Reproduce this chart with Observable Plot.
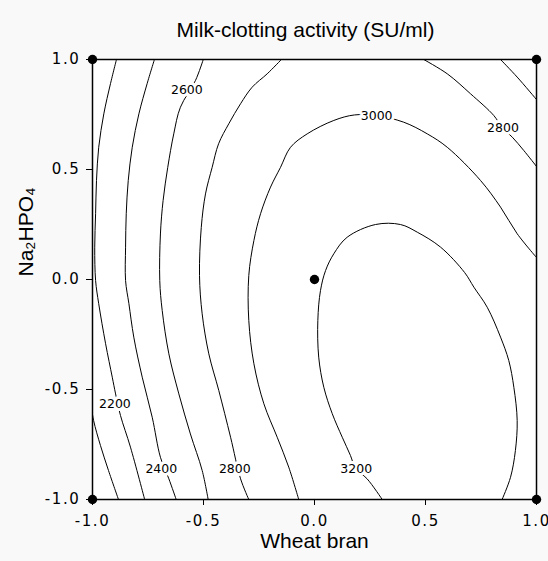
<!DOCTYPE html>
<html>
<head>
<meta charset="utf-8">
<script src="https://cdn.jsdelivr.net/npm/d3@7"></script>
<script src="https://cdn.jsdelivr.net/npm/@observablehq/plot@0.6"></script>
<style>
  html, body { margin: 0; padding: 0; background: #f9f9f9; }
  #chart svg { display: block; }
</style>
</head>
<body>
<div id="chart"></div>
<script>
// ---- Data ----
const xTicks = [-1, -0.5, 0, 0.5, 1];
const yTicks = [-1, -0.5, 0, 0.5, 1];

const c2000x = [-1.008, -0.995, -0.964, -0.928, -0.883];
const c2000y = [-0.56, -0.641, -0.755, -0.868, -1.0];

const c2200x = [-0.892, -0.919, -0.949, -0.972, -0.982, -0.986, -0.990, -0.986, -0.972, -0.941, -0.911, -0.896, -0.874, -0.829, -0.765];
const c2200y = [1.0, 0.890, 0.753, 0.601, 0.45, 0.299, 0.147, -0.005, -0.110, -0.292, -0.444, -0.520, -0.618, -0.762, -1.0];

const c2400x = [-0.721, -0.754, -0.791, -0.821, -0.839, -0.848, -0.851, -0.851, -0.836, -0.814, -0.776, -0.731, -0.694, -0.656, -0.623];
const c2400y = [1.0, 0.890, 0.753, 0.601, 0.45, 0.299, 0.147, -0.005, -0.110, -0.262, -0.444, -0.626, -0.808, -0.906, -1.0];

const c2600x = [-0.501, -0.536, -0.604, -0.634, -0.661, -0.682, -0.694, -0.697, -0.686, -0.656, -0.611, -0.559, -0.506, -0.479];
const c2600y = [1.0, 0.905, 0.783, 0.662, 0.51, 0.359, 0.207, -0.005, -0.141, -0.338, -0.52, -0.702, -0.868, -1.0];

const c2600bx = [0.838, 0.913, 1.0];
const c2600by = [1.0, 0.92, 0.818];

const c2800x = [-0.149, -0.213, -0.281, -0.333, -0.386, -0.432, -0.461, -0.491, -0.510, -0.518, -0.506, -0.476, -0.431, -0.378, -0.333, -0.296];
const c2800y = [1.0, 0.935, 0.874, 0.799, 0.708, 0.617, 0.51, 0.389, 0.237, 0.018, -0.156, -0.338, -0.505, -0.717, -0.906, -1.0];

const c2800bx = [0.492, 0.598, 0.703, 0.808, 0.845, 0.891, 0.943, 1.0];
const c2800by = [1.0, 0.935, 0.844, 0.745, 0.691, 0.647, 0.586, 0.514];

const c3000x = [-0.071, -0.116, -0.168, -0.228, -0.273, -0.296, -0.296, -0.273, -0.243, -0.198, -0.153, -0.108, -0.033, 0.087, 0.18, 0.28, 0.402, 0.508, 0.598, 0.748, 0.838, 0.913, 1.0];
const c3000y = [-1.0, -0.853, -0.717, -0.565, -0.383, -0.186, 0.018, 0.177, 0.299, 0.42, 0.51, 0.601, 0.662, 0.723, 0.748, 0.745, 0.715, 0.662, 0.601, 0.45, 0.329, 0.208, 0.1];

const c3200x = [0.305, 0.237, 0.185, 0.162, 0.125, 0.080, 0.042, 0.019, 0.015, 0.027, 0.05, 0.087, 0.147, 0.275, 0.387, 0.463, 0.568, 0.676, 0.718, 0.778, 0.838, 0.875, 0.898, 0.913, 0.905, 0.883, 0.845];
const c3200y = [-1.0, -0.906, -0.859, -0.8, -0.717, -0.610, -0.490, -0.353, -0.186, -0.05, 0.041, 0.117, 0.192, 0.25, 0.25, 0.215, 0.147, 0.032, -0.035, -0.126, -0.262, -0.368, -0.490, -0.641, -0.777, -0.899, -1.0];

// contour labels
const labelText = ["2600", "3000", "2800", "2200", "2400", "2800", "3200"];
const labelX = [-0.575, 0.280, 0.849, -0.899, -0.690, -0.359, 0.188];
const labelY = [0.863, 0.742, 0.689, -0.568, -0.861, -0.861, -0.861];

// design points
const designX = [-1, 1, -1, 1, 0];
const designY = [1, 1, -1, -1, 0];

const titleText = "Milk-clotting activity (SU/ml)";
const xLabel = "Wheat bran";
const yLabel = "Na₂HPO₄";

// ---- Build tables ----
const contourSets = [
  ["2000", c2000x, c2000y],
  ["2200", c2200x, c2200y],
  ["2400", c2400x, c2400y],
  ["2600a", c2600x, c2600y],
  ["2600b", c2600bx, c2600by],
  ["2800a", c2800x, c2800y],
  ["2800b", c2800bx, c2800by],
  ["3000", c3000x, c3000y],
  ["3200", c3200x, c3200y]
];
const contours = contourSets.flatMap(([id, xs, ys]) => xs.map((x, i) => ({id, x, y: ys[i]})));
const labels = labelText.map((t, i) => ({t, x: labelX[i], y: labelY[i]}));
const design = designX.map((x, i) => ({x, y: designY[i]}));
const fmt = d => d.toFixed(1);

const plot = Plot.plot({
  width: 548,
  height: 561,
  marginLeft: 92,
  marginRight: 12,
  marginTop: 59,
  marginBottom: 62,
  style: {background: "transparent", color: "#000", fontFamily: "DejaVu Sans, Verdana, sans-serif", fontSize: "15px", overflow: "visible"},
  x: {domain: [-1, 1], ticks: xTicks, tickFormat: fmt, tickSize: 6, tickPadding: 10, label: null},
  y: {domain: [-1, 1], ticks: yTicks, tickFormat: fmt, tickSize: 6, tickPadding: 6, label: null},
  marks: [
    Plot.frame({fill: "white", stroke: "none"}),
    Plot.line(contours, {x: "x", y: "y", z: "id", curve: "catmull-rom", stroke: "black", strokeWidth: 1, clip: true}),
    Plot.text(labels, {x: "x", y: "y", text: "t", fontSize: 12.5, fontFamily: "DejaVu Sans, Verdana, sans-serif", fill: "black", stroke: "white", strokeWidth: 6}),
    Plot.frame({stroke: "black", strokeWidth: 1.5}),
    Plot.dot(design, {x: "x", y: "y", r: 4.7, fill: "black", stroke: "none"}),
    Plot.text([titleText], {text: d => d, frameAnchor: "top", dy: -37, dx: -9, fontSize: 21, fontFamily: "Liberation Sans, Arial, sans-serif", fill: "black"}),
    Plot.text([xLabel], {text: d => d, frameAnchor: "bottom", dy: 48, fontSize: 21, fontFamily: "Liberation Sans, Arial, sans-serif", fill: "black"}),
    Plot.text([yLabel], {text: d => d, frameAnchor: "left", dx: -66, dy: -3, rotate: -90, fontSize: 21, fontFamily: "Liberation Sans, Arial, sans-serif", fill: "black"})
  ]
});
document.getElementById("chart").appendChild(plot);
// widen tick label spacing like the reference's bitmap font
d3.select(plot).selectAll('g[aria-label*="axis"] text')
  .style("letter-spacing", "1.6px")
  .style("font-size", "15px")
  .style("font-family", "DejaVu Sans, Verdana, sans-serif");
</script>
</body>
</html>
